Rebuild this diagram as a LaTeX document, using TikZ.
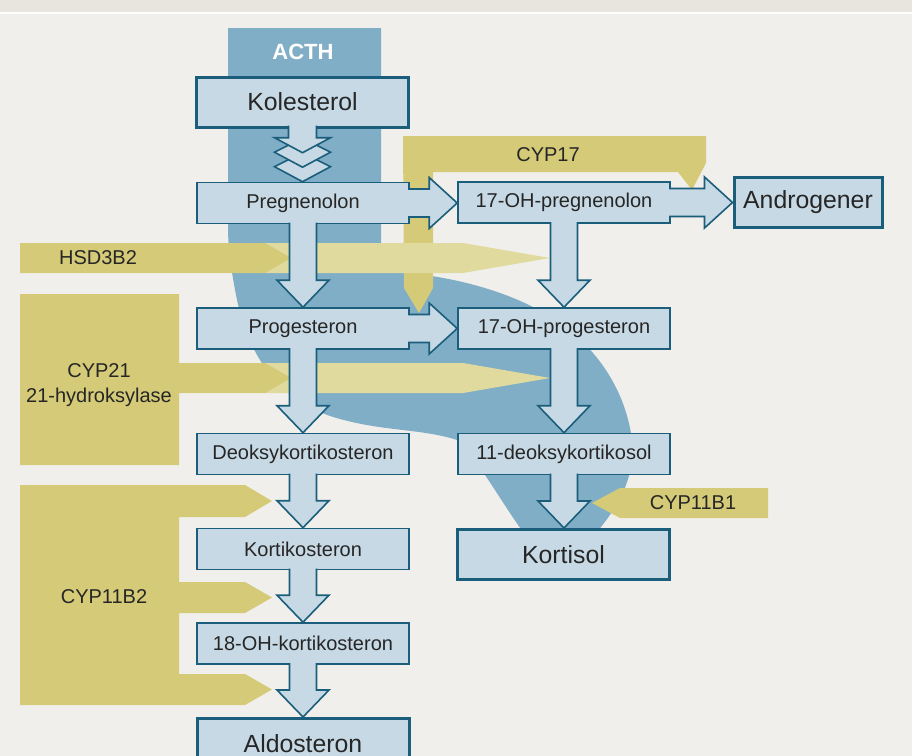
\documentclass[tikz,border=0pt]{standalone}
\usepackage{fontspec}
\setmainfont{Liberation Sans}
\usetikzlibrary{calc}

\definecolor{paper}{HTML}{F0EFEB}
\definecolor{band}{HTML}{E8E5DE}
\definecolor{acth}{HTML}{80AEC6}
\definecolor{boxfill}{HTML}{C6D9E4}
\definecolor{boxline}{HTML}{1B5E7B}
\definecolor{ydark}{HTML}{D4CA78}
\definecolor{ylight}{HTML}{E0DA9E}
\definecolor{txt}{HTML}{262626}

\tikzset{
  hormone/.style={draw=boxline, fill=boxfill, line width=0.8pt, minimum width=106pt,
    minimum height=20.5pt, inner sep=0pt, text=txt, font=\fontsize{10}{12}\selectfont},
  endhormone/.style={hormone, line width=1.5pt, minimum height=25pt,
    font=\fontsize{12.4}{14}\selectfont},
  fatarrow/.style={draw=boxline, fill=boxfill, line width=0.8pt},
  enzyme/.style={text=txt, font=\fontsize{10}{12.5}\selectfont, align=center},
}

\newcommand{\fatdown}[2]{%
  \filldraw[fatarrow] ($(#1.south)+(-13.5,-1.8)$) -- ($(#1.south |- #2.north)+(-13.5,-27)$)
    -- ++(-12.5,0) -- (#1.south |- #2.north) -- ++(26,-27) -- ++(-12.5,0)
    -- ($(#1.south)+(13.5,-1.8)$);}
\newcommand{\fatright}[2]{%
  \filldraw[fatarrow] ($(#1.east)+(-1.8,-14)$) -- ($(#2.west |- #1.east)+(-28,-14)$)
    -- ++(0,-11.5) -- (#2.west |- #1.east) -- ++(-28,25.5) -- ++(0,-11.5)
    -- ($(#1.east)+(-1.8,14)$);}

\begin{document}
\begin{tikzpicture}[x=0.5pt,y=-0.5pt]
\clip (0,0) rectangle (912,756);
\fill[paper] (0,0) rectangle (912,756);
\fill[band] (0,0) rectangle (912,12);
\fill[white] (0,12) rectangle (912,14);

% ACTH
\fill[acth] (228,28) -- (381,28) -- (381,272) .. controls (430,272) and (490,285) .. (533,307)
  .. controls (590,335) and (625,385) .. (632,440) .. controls (636,480) and (615,510) .. (597,532)
  -- (523,532) .. controls (500,500) and (475,455) .. (457,440)
  .. controls (420,428) and (380,432) .. (330,416) .. controls (280,398) and (250,360) .. (237,300)
  .. controls (232,275) and (228,250) .. (228,227) -- cycle;
\node[text=white, font=\bfseries\fontsize{11}{13}\selectfont] (acth) at (303,52) {ACTH};

% enzymes
\fill[ydark] (403,136) -- (706,136) -- (706,163) -- (692,190) -- (678,172) -- (433,172)
  -- (433,288) -- (419,313) -- (404,288) -- cycle;
\node[enzyme] (cyp17) at (548,155) {CYP17};

\fill[ylight] (265,243) -- (463,243) -- (550,258) -- (463,273) -- (265,273) -- cycle;
\fill[ylight] (265,363) -- (463,363) -- (550,378) -- (463,393) -- (265,393) -- cycle;

\fill[ydark] (20,243) -- (265,243) -- (291,258) -- (265,273) -- (20,273) -- cycle;
\node[enzyme] (hsd) at (98,258) {HSD3B2};

\fill[ydark] (20,294) -- (179,294) -- (179,363) -- (265,363) -- (291,378) -- (265,393)
  -- (179,393) -- (179,465) -- (20,465) -- cycle;
\node[enzyme] (cyp21) at (99,385.5) {CYP21\\21-hydroksylase};

\fill[ydark] (20,485) -- (245,485) -- (272,501) -- (245,517) -- (179,517) -- (179,582)
  -- (245,582) -- (272,597.5) -- (245,613) -- (179,613) -- (179,674) -- (245,674)
  -- (272,689.5) -- (245,705) -- (20,705) -- cycle;
\node[enzyme] (cyp11b2) at (104,597) {CYP11B2};

\fill[ydark] (768,488) -- (620,488) -- (592,503) -- (620,518) -- (768,518) -- cycle;
\node[enzyme] (cyp11b1) at (693,503) {CYP11B1};

% hormones
\node[endhormone] (kol) at (302.5,102) {Kolesterol};
\node[hormone] (preg) at (303,203) {Pregnenolon};
\node[hormone] (ohpreg) at (564,202.5) {17-OH-pregnenolon};
\node[endhormone, minimum width=74pt] (andro) at (808,202.5) {Androgener};
\node[hormone] (prog) at (303,328.5) {Progesteron};
\node[hormone] (ohprog) at (564,328.5) {17-OH-progesteron};
\node[hormone] (doc) at (303,454) {Deoksykortikosteron};
\node[hormone] (deoksol) at (564,454) {11-deoksykortikosol};
\node[hormone] (kortikost) at (303,549) {Kortikosteron};
\node[endhormone] (kortisol) at (563.5,554.5) {Kortisol};
\node[hormone] (ohkort) at (303,643.5) {18-OH-kortikosteron};
\node[endhormone] (aldo) at (303,743.5) {Aldosteron};

\coordinate (c2) at (kol.south |- preg.north);
\coordinate (c1) at ($(c2)+(0,-14.5)$);
\coordinate (c0) at ($(c2)+(0,-29)$);
\foreach \c in {c2,c1}
  \filldraw[fatarrow] ($(\c)+(-14,-22)$) -- ($(\c)+(-28,-15)$) -- (\c) -- ($(\c)+(28,-15)$)
    -- ($(\c)+(14,-22)$);
\filldraw[fatarrow] ($(kol.south)+(-14,-3)$) -- ($(c0)+(-14,-15)$) -- ($(c0)+(-28,-15)$) -- (c0)
  -- ($(c0)+(28,-15)$) -- ($(c0)+(14,-15)$) -- ($(kol.south)+(14,-3)$);

\fatright{preg}{ohpreg}
\fatright{prog}{ohprog}
\fatright{ohpreg}{andro}
\fatdown{preg}{prog}
\fatdown{prog}{doc}
\fatdown{doc}{kortikost}
\fatdown{kortikost}{ohkort}
\fatdown{ohkort}{aldo}
\fatdown{ohpreg}{ohprog}
\fatdown{ohprog}{deoksol}
\fatdown{deoksol}{kortisol}
\end{tikzpicture}
\end{document}
